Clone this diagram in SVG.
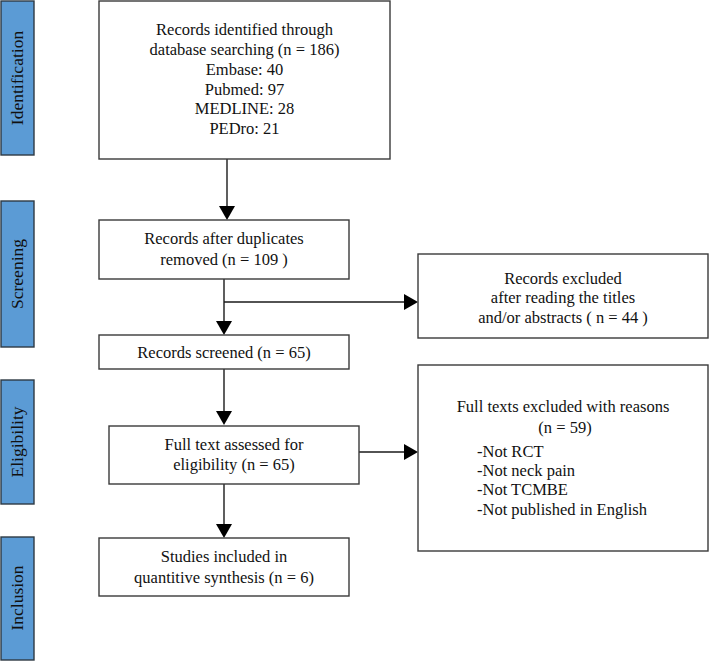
<svg xmlns="http://www.w3.org/2000/svg" width="710" height="662" viewBox="0 0 710 662">
<defs>
<style>
.box{fill:#fff;stroke:#3a3a3a;stroke-width:1.4}
.phase{fill:#5b9bd5;stroke:#2e3a44;stroke-width:1.4}
text{font-family:"Liberation Serif","Times New Roman",serif;font-size:16.5px;fill:#111}
.p{font-size:17.5px}
.c{text-anchor:middle}
.line{stroke:#1a1a1a;stroke-width:1.4;fill:none}
</style>
</defs>
<rect width="710" height="662" fill="#fff"/>
<g id="phases">
<g id="phase-identification"><rect class="phase" x="1" y="1" width="33" height="154"/><text class="c p" transform="translate(23,78) rotate(-90)">Identification</text></g>
<g id="phase-screening"><rect class="phase" x="1" y="201" width="33" height="146"/><text class="c p" transform="translate(23,274) rotate(-90)">Screening</text></g>
<g id="phase-eligibility"><rect class="phase" x="1" y="380" width="33" height="124"/><text class="c p" transform="translate(23,442) rotate(-90)">Eligibility</text></g>
<g id="phase-inclusion"><rect class="phase" x="1" y="537" width="33" height="123"/><text class="c p" transform="translate(23,598) rotate(-90)">Inclusion</text></g>
</g>
<g id="connectors">
<path class="line" d="M227,159 V206"/><path d="M219,206 L235,206 L227,220 Z" fill="#000"/>
<path class="line" d="M224,279 V321"/><path d="M216,321 L232,321 L224,335 Z" fill="#000"/>
<path class="line" d="M224,302 H404"/><path d="M404,294 L404,310 L418,302 Z" fill="#000"/>
<path class="line" d="M224,369 V411"/><path d="M216,411 L232,411 L224,425 Z" fill="#000"/>
<path class="line" d="M359,452 H404"/><path d="M404,444 L404,460 L418,452 Z" fill="#000"/>
<path class="line" d="M224,484 V524"/><path d="M216,524 L232,524 L224,538 Z" fill="#000"/>
</g>
<g id="n1"><rect class="box" x="99" y="1" width="291" height="158"/>
<text class="c" x="244.5" y="35">Records identified through</text>
<text class="c" x="244.5" y="55">database searching (n = 186)</text>
<text class="c" x="244.5" y="75">Embase: 40</text>
<text class="c" x="244.5" y="95">Pubmed: 97</text>
<text class="c" x="244.5" y="114">MEDLINE: 28</text>
<text class="c" x="244.5" y="134">PEDro: 21</text></g>
<g id="n2"><rect class="box" x="99" y="220" width="250" height="59"/>
<text class="c" x="224" y="244">Records after duplicates</text>
<text class="c" x="224" y="265">removed (n = 109 )</text></g>
<g id="n3"><rect class="box" x="99" y="335" width="250" height="34"/>
<text class="c" x="224" y="358">Records screened (n = 65)</text></g>
<g id="n4"><rect class="box" x="418" y="254" width="290" height="84"/>
<text class="c" x="563" y="284">Records excluded</text>
<text class="c" x="563" y="303">after reading the titles</text>
<text class="c" x="563" y="323">and/or abstracts ( n = 44 )</text></g>
<g id="n5"><rect class="box" x="109" y="426" width="250" height="58"/>
<text class="c" x="234" y="450">Full text assessed for</text>
<text class="c" x="234" y="470">eligibility (n = 65)</text></g>
<g id="n6"><rect class="box" x="418" y="365" width="290" height="186"/>
<text class="c" x="563" y="412">Full texts excluded with reasons</text>
<text class="c" x="565" y="433">(n = 59)</text>
<text x="477" y="457">-Not RCT</text>
<text x="477" y="476">-Not neck pain</text>
<text x="477" y="495">-Not TCMBE</text>
<text x="477" y="515">-Not published in English</text></g>
<g id="n7"><rect class="box" x="99" y="538" width="250" height="58"/>
<text class="c" x="224" y="562">Studies included in</text>
<text class="c" x="224" y="583">quantitive synthesis (n = 6)</text></g>
</svg>
